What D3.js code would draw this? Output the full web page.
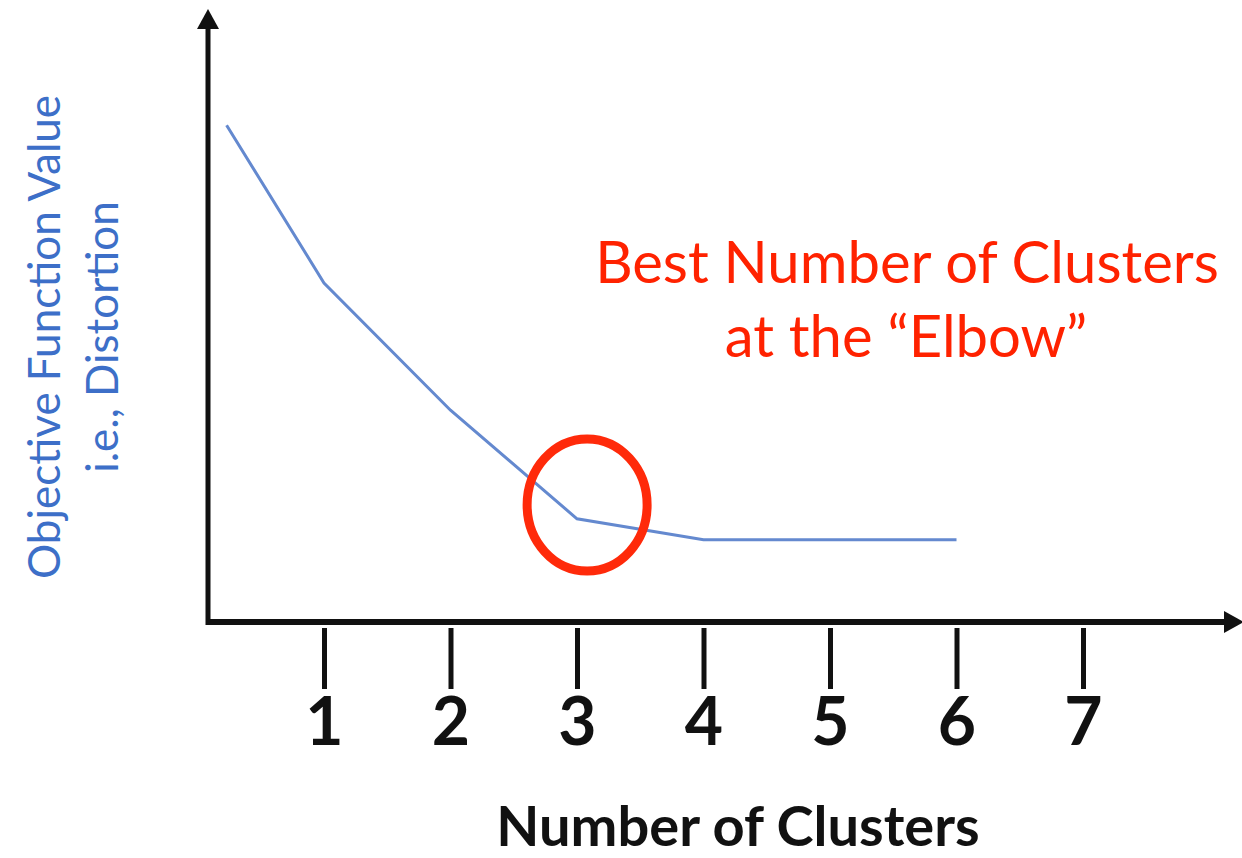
<!DOCTYPE html>
<html>
<head>
<meta charset="utf-8">
<script src="https://d3js.org/d3.v7.min.js"></script>
<style>
  body { margin: 0; background: #fff; }
  text { font-family: Lato, "Open Sans", sans-serif; }
</style>
</head>
<body>
<div id="chart"></div>
<script>
// data
const clusters = [0.23, 1, 2, 3, 4, 5, 6];
const distortion = [8.28, 5.65, 3.53, 1.72, 1.37, 1.37, 1.37];
const tickValues = [1, 2, 3, 4, 5, 6, 7];
const elbow = { k: 3.08, v: 1.95 };

const width = 1242;
const height = 858;

const svg = d3.select("#chart")
  .append("svg")
  .attr("width", width)
  .attr("height", height);

// scales
const x = d3.scaleLinear().domain([0, 8]).range([197.5, 1209.5]);
const y = d3.scaleLinear().domain([0, 10]).range([622, 22]);

const originX = 208, originY = 622;

// axis lines with arrow heads
svg.append("line")
  .attr("x1", originX).attr("y1", originY + 3)
  .attr("x2", originX).attr("y2", 26)
  .attr("stroke", "#111").attr("stroke-width", 5);
svg.append("path")
  .attr("d", `M${originX},9 L${originX - 11},29 L${originX + 11},29 Z`)
  .attr("fill", "#111");

svg.append("line")
  .attr("x1", originX - 2).attr("y1", originY)
  .attr("x2", 1226).attr("y2", originY)
  .attr("stroke", "#111").attr("stroke-width", 6);
svg.append("path")
  .attr("d", `M1244,${originY} L1224,${originY - 11} L1224,${originY + 11} Z`)
  .attr("fill", "#111");

// x ticks
const xAxis = d3.axisBottom(x)
  .tickValues(tickValues)
  .tickSizeInner(61)
  .tickSizeOuter(0)
  .tickFormat(d3.format("d"));

const gx = svg.append("g")
  .attr("transform", `translate(0,${originY + 6})`)
  .call(xAxis);
gx.select(".domain").remove();
gx.selectAll(".tick line")
  .attr("stroke", "#111")
  .attr("stroke-width", 5);
gx.selectAll(".tick text")
  .attr("y", 117)
  .attr("dy", 0)
  .attr("fill", "#111")
  .style("font-family", "Lato, sans-serif")
  .style("font-weight", "bold")
  .style("font-size", "66px");

// curve
const line = d3.line()
  .x((d, i) => x(clusters[i]))
  .y(d => y(d));

svg.append("path")
  .datum(distortion)
  .attr("d", line)
  .attr("fill", "none")
  .attr("stroke", "#6489cf")
  .attr("stroke-width", 3);

// elbow marker
svg.append("ellipse")
  .attr("cx", x(elbow.k))
  .attr("cy", y(elbow.v))
  .attr("rx", 60)
  .attr("ry", 66)
  .attr("fill", "none")
  .attr("stroke", "#ff2a0a")
  .attr("stroke-width", 9);

// annotation
const note = svg.append("text")
  .attr("text-anchor", "middle")
  .attr("fill", "#ff2200")
  .style("font-size", "58px");
note.append("tspan").attr("x", 907).attr("y", 283).text("Best Number of Clusters");
note.append("tspan").attr("x", 906).attr("y", 357).text("at the \u201CElbow\u201D");

// axis titles
svg.append("text")
  .attr("x", 738)
  .attr("y", 846)
  .attr("text-anchor", "middle")
  .attr("fill", "#111")
  .style("font-size", "56px")
  .style("font-weight", "bold")
  .text("Number of Clusters");

const ylab = svg.append("text")
  .attr("transform", "translate(0,337) rotate(-90)")
  .attr("text-anchor", "middle")
  .attr("fill", "#3d6fc8")
  .style("font-size", "44px");
ylab.append("tspan").attr("x", 0).attr("y", 60).text("Objective Function Value");
ylab.append("tspan").attr("x", 0).attr("y", 118).text("i.e., Distortion");
</script>
</body>
</html>
